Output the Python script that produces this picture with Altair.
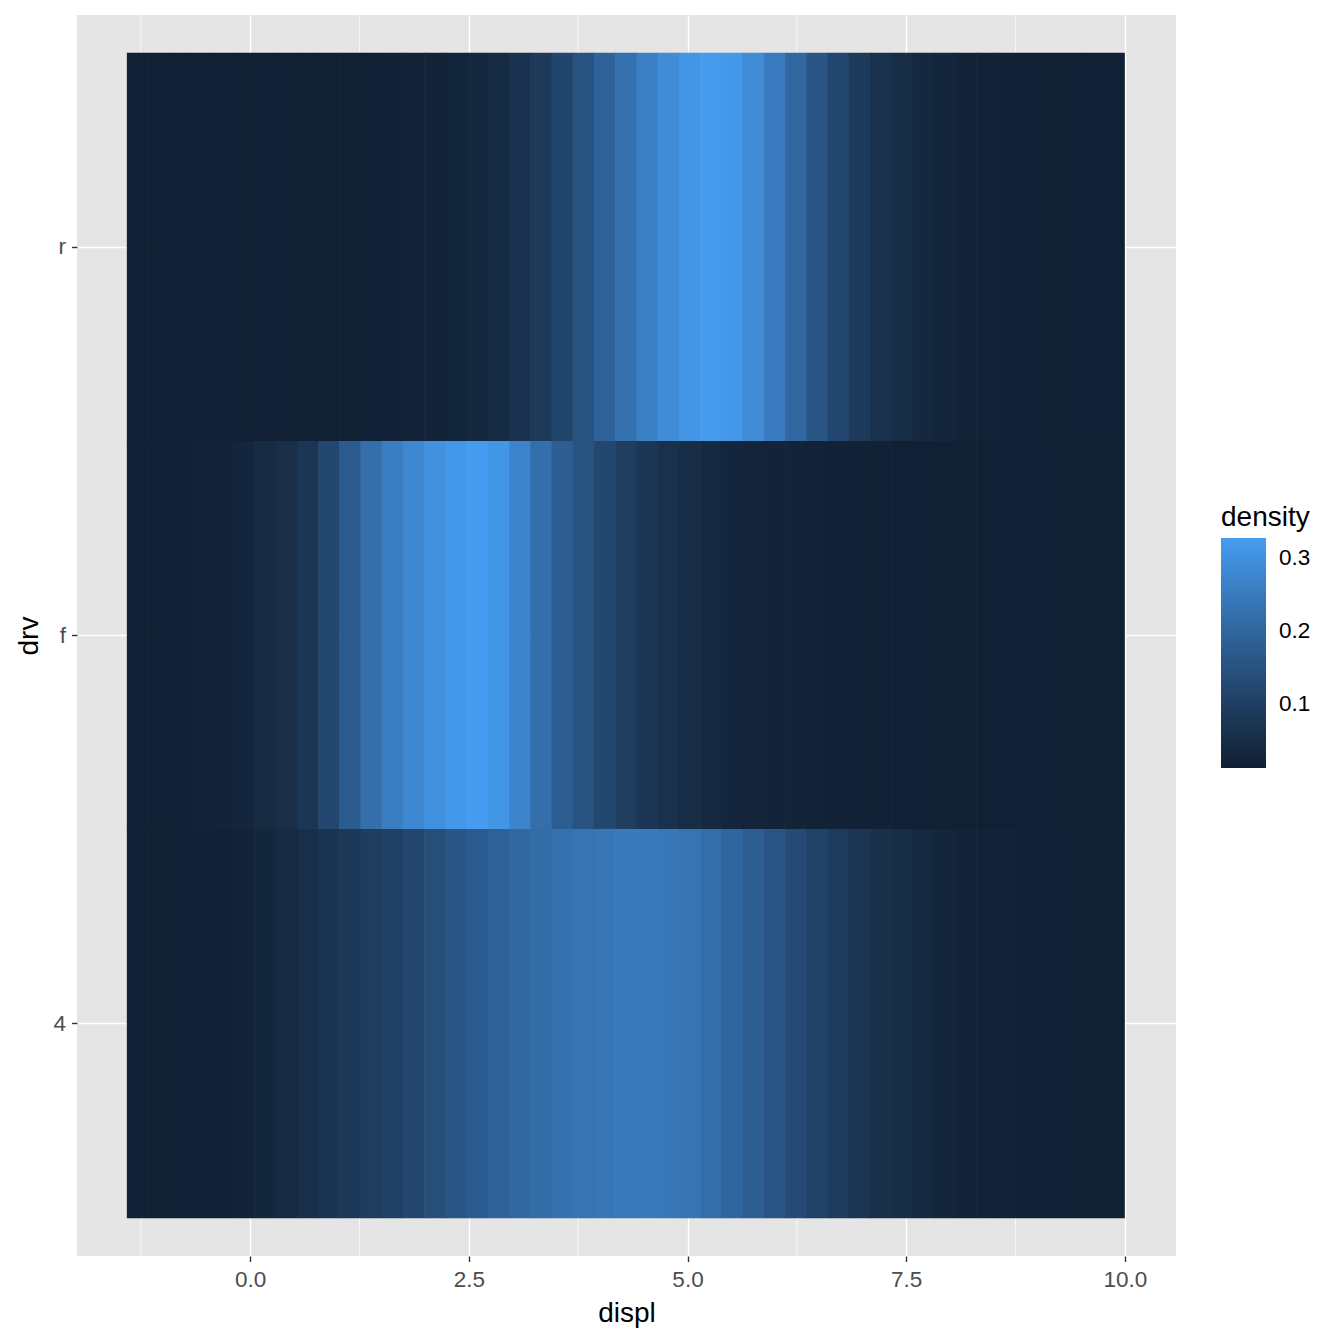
import altair as alt
import pandas as pd

# Rows (drv categories), top to bottom
drv_levels = ["r", "f", "4"]

# Tile grid along displ (47 tiles from XMIN to XMAX)
XMIN = -1.41
XMAX = 10.0
N_TILES = 47

# Density at each tile centre
dens_r = [0.013, 0.013, 0.013, 0.013, 0.013, 0.013, 0.013, 0.013, 0.013, 0.014,
          0.014, 0.015, 0.017, 0.019, 0.022, 0.027, 0.033, 0.045, 0.065, 0.085,
          0.115, 0.150, 0.190, 0.225, 0.262, 0.290, 0.310, 0.325, 0.318, 0.290,
          0.250, 0.205, 0.158, 0.120, 0.085, 0.062, 0.046, 0.036, 0.029, 0.024,
          0.020, 0.017, 0.015, 0.014, 0.013, 0.013, 0.013]
dens_f = [0.015, 0.016, 0.018, 0.021, 0.025, 0.031, 0.040, 0.053, 0.075, 0.120,
          0.175, 0.220, 0.255, 0.280, 0.302, 0.318, 0.327, 0.310, 0.272, 0.220,
          0.178, 0.148, 0.120, 0.097, 0.078, 0.061, 0.047, 0.038, 0.031, 0.028,
          0.025, 0.022, 0.020, 0.018, 0.017, 0.016, 0.015, 0.015, 0.014, 0.014,
          0.013, 0.013, 0.013, 0.013, 0.012, 0.012, 0.012]
dens_4 = [0.013, 0.014, 0.015, 0.016, 0.018, 0.022, 0.030, 0.042, 0.055, 0.068,
          0.080, 0.093, 0.105, 0.120, 0.138, 0.158, 0.175, 0.190, 0.203, 0.215,
          0.225, 0.233, 0.240, 0.245, 0.248, 0.243, 0.233, 0.218, 0.200, 0.178,
          0.155, 0.130, 0.108, 0.088, 0.072, 0.058, 0.046, 0.037, 0.030, 0.025,
          0.021, 0.019, 0.017, 0.016, 0.015, 0.014, 0.014]

x_ticks = [0.0, 2.5, 5.0, 7.5, 10.0]
x_minor = [-1.25, 1.25, 3.75, 6.25, 8.75]
legend_ticks = [0.1, 0.2, 0.3]

step = (XMAX - XMIN) / N_TILES
overlap = step * 0.03  # tiny overlap so no seams show between tiles
rows = []
for drv, dens in zip(drv_levels, [dens_r, dens_f, dens_4]):
    for i, d in enumerate(dens):
        x0 = XMIN + i * step
        x1 = XMIN + (i + 1) * step
        if i < len(dens) - 1:
            x1 += overlap
        rows.append({"drv": drv, "x": x0, "x2": x1, "density": d})
df = pd.DataFrame(rows)

all_d = dens_r + dens_f + dens_4
xscale = alt.Scale(domain=[-1.98, 10.585], nice=False, zero=False)
cscale = alt.Scale(domain=[min(all_d), max(all_d)], range=["#112033", "#469CF0"],
                   interpolate="lab")
yscale = alt.Scale(domain=drv_levels, paddingInner=0, paddingOuter=0.099)

FONT = "Liberation Sans"
LABEL_SIZE = 22.5
TITLE_SIZE = 28

minor = alt.Chart(pd.DataFrame({"x": x_minor})).mark_rule(
    color="white", strokeWidth=0.7
).encode(x=alt.X("x:Q", scale=xscale))

tiles = alt.Chart(df).mark_rect(height={"band": 1.003}).encode(
    x=alt.X("x:Q", scale=xscale, title="displ",
            axis=alt.Axis(values=x_ticks, format=".1f", grid=True, gridColor="white",
                          gridWidth=1.4, domain=False, tickColor="#333333", tickSize=5.5,
                          tickWidth=1.4, labelColor="#4D4D4D", labelFontSize=LABEL_SIZE,
                          labelPadding=7, titleFontSize=TITLE_SIZE,
                          titleFontWeight="normal", titleColor="black", titlePadding=8,
                          labelFont=FONT, titleFont=FONT, zindex=0)),
    x2="x2:Q",
    y=alt.Y("drv:N", scale=yscale, title="drv",
            axis=alt.Axis(grid=True, gridColor="white", gridWidth=1.4, bandPosition=0.5,
                          domain=False, tickColor="#333333", tickSize=5.5, tickWidth=1.4,
                          labelColor="#4D4D4D", labelFontSize=LABEL_SIZE, labelPadding=6,
                          titleFontSize=TITLE_SIZE, titleFontWeight="normal",
                          titleColor="black", titlePadding=9, labelFont=FONT,
                          titleFont=FONT, zindex=0)),
    color=alt.Color("density:Q", scale=cscale,
                    legend=alt.Legend(values=legend_ticks, orient="none", legendX=1144,
                                      legendY=489, gradientLength=230,
                                      gradientThickness=45, titleFontSize=TITLE_SIZE,
                                      titleFontWeight="normal", titleColor="black",
                                      labelFontSize=LABEL_SIZE, labelColor="black",
                                      labelFont=FONT, titleFont=FONT, titlePadding=6,
                                      gradientStrokeWidth=0, labelOffset=13,
                                      direction="vertical")),
)

chart = alt.layer(minor, tiles).properties(
    width=1099, height=1241,
    autosize="none",
    padding={"left": 69, "top": 7, "right": 160, "bottom": 80},
    background="white",
).configure_view(fill="#E5E5E5", stroke=None)

chart.save("out.html", embed_options={"renderer": "svg", "actions": False})
